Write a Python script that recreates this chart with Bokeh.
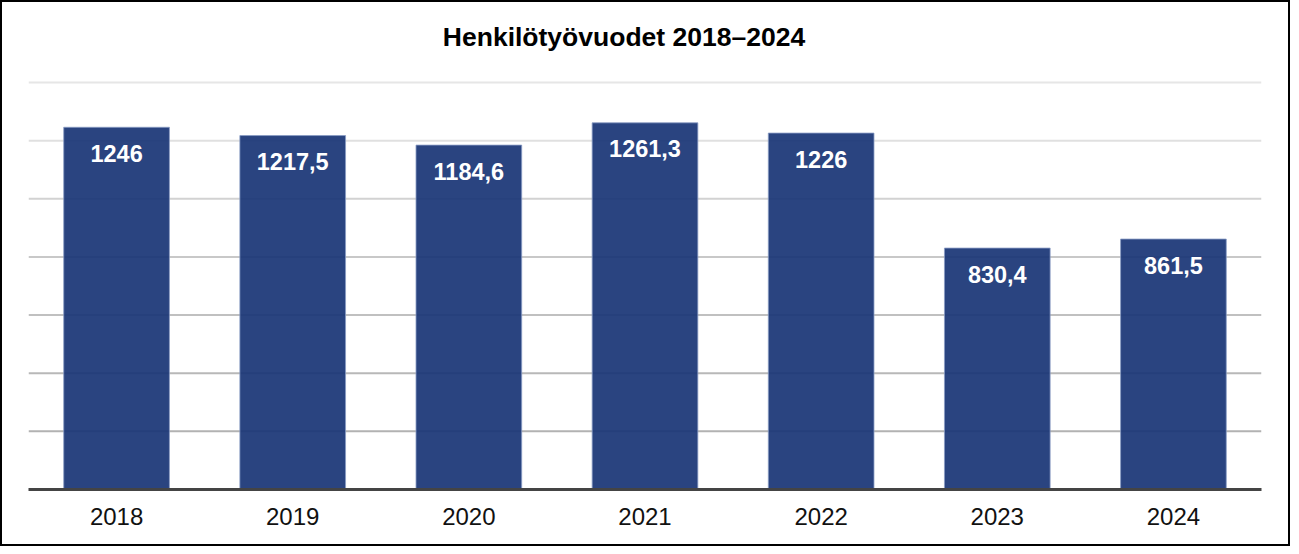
from bokeh.plotting import figure
from bokeh.models import ColumnDataSource, Span
from bokeh.core.properties import value
from bokeh.embed import file_html
from bokeh.resources import INLINE

title_text = "Henkilötyövuodet 2018–2024"
years = ["2018", "2019", "2020", "2021", "2022", "2023", "2024"]
values = [1246, 1217.5, 1184.6, 1261.3, 1226, 830.4, 861.5]
labels = [f"{v:g}".replace(".", ",") for v in values]
grid_ticks = [200, 400, 600, 800, 1000, 1200, 1400]
grid_colors = ["#b2b2b2", "#b8b8b8", "#c0c0c0", "#c8c8c8", "#d2d2d2", "#e0e0e0", "#e6e6e6"]

src = ColumnDataSource(data=dict(year=years, val=values, lab=labels))

# layout (pixels): frame spans the full height above the axis; top gridline 80px below top
y_top = grid_ticks[-1]
frame_h = 487
top_gap = 80
y_end = y_top * frame_h / (frame_h - top_gap)

p = figure(x_range=years, y_range=(0, y_end), width=1290, height=546,
           output_backend="svg", toolbar_location=None,
           min_border_left=26, min_border_right=31, min_border_top=0, min_border_bottom=59)
p.styles = {"border": "2px solid black", "box-sizing": "border-box"}
p.outline_line_color = None
p.xgrid.grid_line_color = None
p.ygrid.grid_line_color = None
p.yaxis.visible = False

for t, c in zip(grid_ticks, grid_colors):
    p.add_layout(Span(location=t, dimension="width", line_color=c, line_width=2, level="underlay"))

p.vbar(x="year", top="val", width=0.6, source=src, fill_color="#1a3676", fill_alpha=0.93,
       line_color="#8a9cc4", line_width=1, line_alpha=0.8)

p.text(x="year", y="val", text="lab", source=src, text_color="white",
       text_font=value("Liberation Sans"), text_font_style="bold", text_font_size="23.5px",
       text_align="center", text_baseline="middle", y_offset=26)

p.text(x=[years[len(years) // 2]], y=[y_top], text=[title_text], text_color="#000000",
       text_font=value("Liberation Sans"), text_font_style="bold", text_font_size="26.5px",
       text_align="center", text_baseline="middle", y_offset=-46, x_offset=-21)

p.xaxis.axis_line_color = "#444444"
p.xaxis.axis_line_width = 3
p.xaxis.major_tick_line_color = None
p.xaxis.minor_tick_line_color = None
p.xaxis.major_label_text_font = "Liberation Sans"
p.xaxis.major_label_text_font_size = "24px"
p.xaxis.major_label_text_color = "#111111"
p.xaxis.major_label_standoff = 12

open("out.html", "w").write(file_html(p, INLINE))
